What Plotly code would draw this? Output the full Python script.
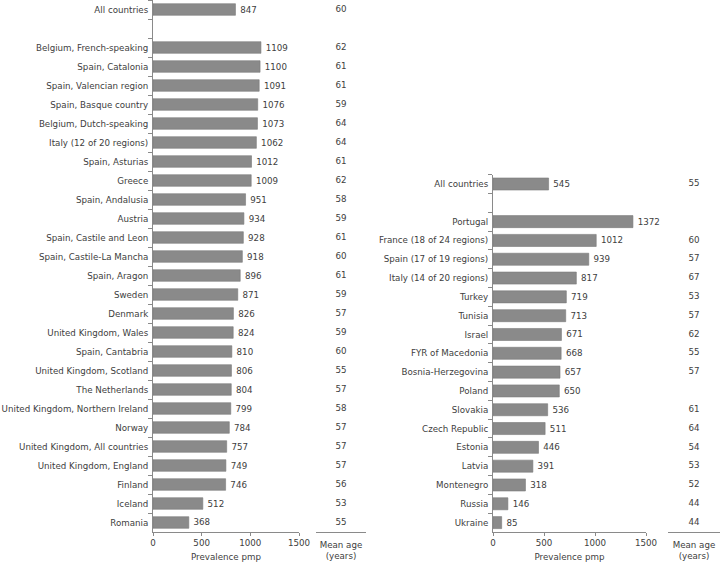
import plotly.graph_objects as go

# ---- data ----
left_countries = ["All countries", "Belgium, French-speaking", "Spain, Catalonia", "Spain, Valencian region",
                  "Spain, Basque country", "Belgium, Dutch-speaking", "Italy (12 of 20 regions)", "Spain, Asturias",
                  "Greece", "Spain, Andalusia", "Austria", "Spain, Castile and Leon", "Spain, Castile-La Mancha",
                  "Spain, Aragon", "Sweden", "Denmark", "United Kingdom, Wales", "Spain, Cantabria",
                  "United Kingdom, Scotland", "The Netherlands", "United Kingdom, Northern Ireland", "Norway",
                  "United Kingdom, All countries", "United Kingdom, England", "Finland", "Iceland", "Romania"]
left_prevalence = [847, 1109, 1100, 1091, 1076, 1073, 1062, 1012, 1009, 951, 934, 928, 918, 896, 871,
                   826, 824, 810, 806, 804, 799, 784, 757, 749, 746, 512, 368]
left_mean_age = [60, 62, 61, 61, 59, 64, 64, 61, 62, 58, 59, 61, 60, 61, 59, 57, 59, 60, 55, 57, 58,
                 57, 57, 57, 56, 53, 55]

right_countries = ["All countries", "Portugal", "France (18 of 24 regions)", "Spain (17 of 19 regions)",
                   "Italy (14 of 20 regions)", "Turkey", "Tunisia", "Israel", "FYR of Macedonia",
                   "Bosnia-Herzegovina", "Poland", "Slovakia", "Czech Republic", "Estonia", "Latvia",
                   "Montenegro", "Russia", "Ukraine"]
right_prevalence = [545, 1372, 1012, 939, 817, 719, 713, 671, 668, 657, 650, 536, 511, 446, 391, 318, 146, 85]
right_mean_age = [55, None, 60, 57, 67, 53, 57, 62, 55, 57, None, 61, 64, 54, 53, 52, 44, 44]

x_ticks = [0, 500, 1000, 1500]
spacer = " "

# ---- style ----
W, H = 720, 562
FONT = "DejaVu Sans"
TXT = "#404040"
AX = "#8a8a8a"
BAR = "#8a8a8a"
FS = 8.7


def px_x(p):
    return p / W


def px_y(p):
    return 1 - p / H


def label(v):
    return "\u2009" + str(v)


left_order = [left_countries[0], spacer] + left_countries[1:]
right_order = [right_countries[0], spacer] + right_countries[1:]

fig = go.Figure()

fig.add_trace(go.Bar(
    x=left_prevalence, y=left_countries, orientation="h", xaxis="x", yaxis="y", width=0.61,
    marker=dict(color=BAR, line=dict(color="#7a7a7a", width=0.6)),
    text=[label(v) for v in left_prevalence], textposition="outside", cliponaxis=False,
    textfont=dict(family=FONT, size=FS, color=TXT), showlegend=False, hoverinfo="skip"))

fig.add_trace(go.Scatter(
    x=[0.5] * len(left_countries), y=left_countries, mode="text", xaxis="x3", yaxis="y",
    text=[("" if a is None else str(a)) for a in left_mean_age],
    textfont=dict(family=FONT, size=FS, color=TXT), cliponaxis=False, showlegend=False, hoverinfo="skip"))

fig.add_trace(go.Bar(
    x=right_prevalence, y=right_countries, orientation="h", xaxis="x2", yaxis="y2", width=0.64,
    marker=dict(color=BAR, line=dict(color="#7a7a7a", width=0.6)),
    text=[label(v) for v in right_prevalence], textposition="outside", cliponaxis=False,
    textfont=dict(family=FONT, size=FS, color=TXT), showlegend=False, hoverinfo="skip"))

fig.add_trace(go.Scatter(
    x=[0.5] * len(right_countries), y=right_countries, mode="text", xaxis="x4", yaxis="y2",
    text=[("" if a is None else str(a)) for a in right_mean_age],
    textfont=dict(family=FONT, size=FS, color=TXT), cliponaxis=False, showlegend=False, hoverinfo="skip"))

ytop_l, ybot = 0, 532
ytop_r = 174.6

xaxis_common = dict(range=[0, 1500], tickvals=x_ticks, ticktext=[str(t) for t in x_ticks],
                    showgrid=False, zeroline=False, showline=True, linecolor=AX, linewidth=1,
                    ticks="outside", ticklen=3, tickcolor=AX,
                    tickfont=dict(family=FONT, size=FS, color=TXT),
                    title=dict(text="Prevalence pmp", font=dict(family=FONT, size=FS, color=TXT), standoff=7),
                    automargin=False, fixedrange=True)

yaxis_common = dict(type="category", categoryorder="array", showgrid=False, zeroline=False,
                    showline=True, linecolor=AX, linewidth=1, ticks="outside", ticklen=4, tickcolor=AX,
                    tickson="boundaries", ticklabelstandoff=2,
                    tickfont=dict(family=FONT, size=FS, color=TXT), automargin=False, fixedrange=True)

age_axis = dict(range=[0, 1], showgrid=False, zeroline=False, showline=True, linecolor=AX, linewidth=1,
                showticklabels=False, ticks="",
                title=dict(text="Mean age<br>(years)", font=dict(family=FONT, size=FS, color=TXT), standoff=9),
                automargin=False, fixedrange=True)

fig.update_layout(
    width=W, height=H, margin=dict(l=0, r=0, t=0, b=0),
    paper_bgcolor="white", plot_bgcolor="white",
    font=dict(family=FONT, size=FS, color=TXT),
    xaxis=dict(**xaxis_common, domain=[px_x(153), px_x(299)], anchor="y"),
    yaxis=dict(**yaxis_common, categoryarray=left_order,
               range=[len(left_order) - 0.5, -0.5],
               domain=[px_y(ybot), px_y(ytop_l)], anchor="x"),
    xaxis2=dict(**xaxis_common, domain=[px_x(493), px_x(646)], anchor="y2"),
    yaxis2=dict(**yaxis_common, categoryarray=right_order,
                range=[len(right_order) - 0.5, -0.5],
                domain=[px_y(ybot), px_y(ytop_r)], anchor="x2"),
    xaxis3=dict(**age_axis, domain=[px_x(316), px_x(366)], anchor="y"),
    xaxis4=dict(**age_axis, domain=[px_x(668), px_x(720)], anchor="y2"),
)

fig.write_html(
    "out.html",
    config={"displayModeBar": False},
    post_script="document.body.style.margin='0';document.body.style.padding='0';"
                "document.body.style.overflow='hidden';",
)
